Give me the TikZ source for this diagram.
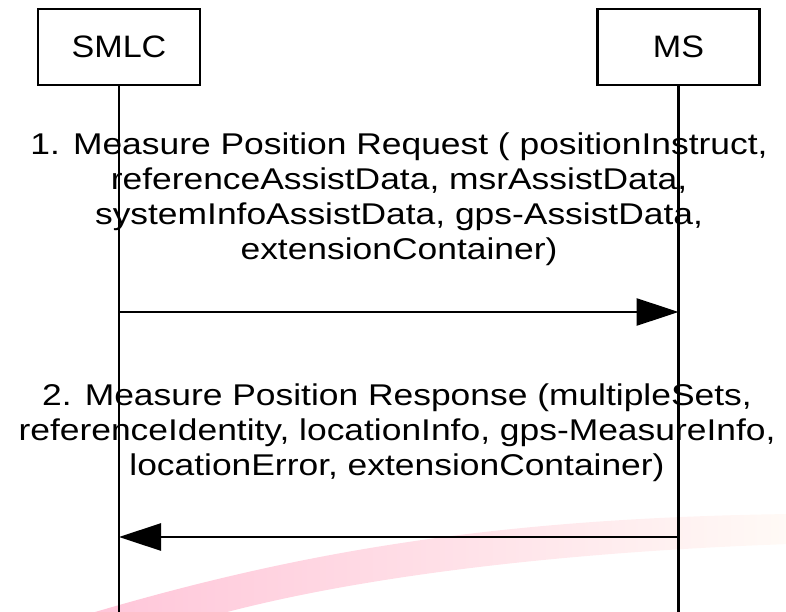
\documentclass[tikz,border=0pt]{standalone}
\usepackage{fontspec}
\setmainfont{Liberation Sans}
\usetikzlibrary{arrows.meta}
\definecolor{swpink}{RGB}{255,196,216}
\definecolor{swmid}{RGB}{255,226,232}
\definecolor{swpale}{RGB}{255,250,246}
\begin{document}
\begin{tikzpicture}[x=1pt,y=-1pt,
  actor/.style={draw, line width=2.6pt, minimum width=162pt, minimum height=76pt,
    inner sep=0pt, font=\fontsize{31}{36}\selectfont},
  lifeline/.style={line width=2.6pt},
  msg/.style={line width=2.8pt, -{Triangle[length=42pt,width=27pt]}},
  msgtext/.style={align=center, font=\fontsize{30}{34.7}\selectfont,
    inner sep=0pt, xscale=1.18}]
\useasboundingbox (0,0) rectangle (786,612);

% pink swoosh in the lower part of the page
\begin{scope}
  \clip (0,0) rectangle (786,612);
  \shade[left color=swpink, middle color=swmid, right color=swpale]
    (75,618) .. controls (300,550) and (500,518) .. (790,514)
    -- (790,544) .. controls (560,552) and (350,577) .. (205,618) -- cycle;
\end{scope}

% entities
\node[actor] (smlc) at (119,47) {\scalebox{1.1}[1]{SMLC}};
\node[actor] (ms) at (678.5,47) {\scalebox{1.1}[1]{MS}};

\coordinate (smlcend) at (119,612);
\coordinate (msend) at (678.5,612);
\coordinate (r1) at (0,312);
\coordinate (r2) at (0,537);

% lifelines
\draw[lifeline] (smlc.south) -- (smlcend);
\draw[lifeline] (ms.south) -- (msend);

% messages
\draw[msg] (smlc.south |- r1) -- (ms.south |- r1);
\draw[msg] (ms.south |- r2) -- (smlc.south |- r2);

% the base anchor of these nodes sits on their last line
\node[msgtext, anchor=base] (t1) at (399,259)
  {1. Measure Position Request ( positionInstruct,\\
   referenceAssistData, msrAssistData,\\
   systemInfoAssistData, gps-AssistData,\\
   extensionContainer)};
\node[msgtext, anchor=base] (t2) at (397,475)
  {2. Measure Position Response (multipleSets,\\
   referenceIdentity, locationInfo, gps-MeasureInfo,\\
   locationError, extensionContainer)};
\end{tikzpicture}
\end{document}
